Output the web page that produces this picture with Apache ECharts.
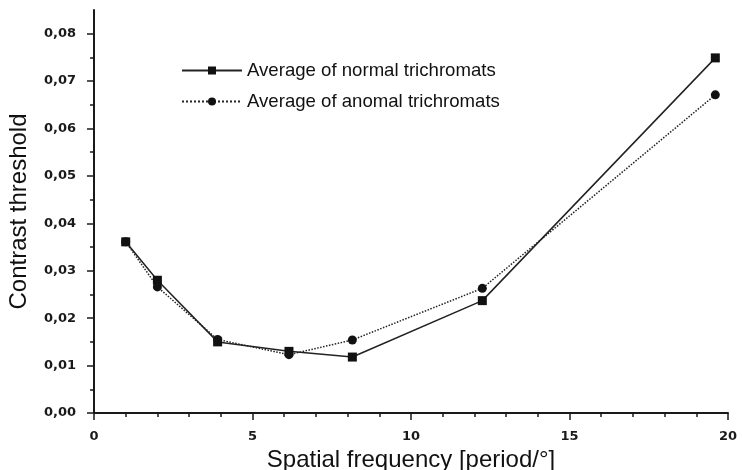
<!DOCTYPE html>
<html>
<head>
<meta charset="utf-8">
<script src="https://cdn.jsdelivr.net/npm/echarts@6/dist/echarts.min.js"></script>
<style>
  html, body { margin: 0; padding: 0; background: #fff; }
  #chart { width: 742px; height: 470px; }
</style>
</head>
<body>
<div id="chart"></div>
<script>
// spatial frequency of each measurement
const freq = [1, 2, 3.9, 6.15, 8.15, 12.25, 19.6];
// contrast thresholds
const normalAvg = [0.0361, 0.028, 0.015, 0.013, 0.0118, 0.0237, 0.0749];
const anomalAvg = [0.0361, 0.0266, 0.0155, 0.0123, 0.0154, 0.0263, 0.0671];
const seriesNames = ["Average of normal trichromats", "Average of anomal trichromats"];
// y axis ticks
const yTicks = [0, 0.01, 0.02, 0.03, 0.04, 0.05, 0.06, 0.07, 0.08];
const yTickLabels = ["0,00", "0,01", "0,02", "0,03", "0,04", "0,05", "0,06", "0,07", "0,08"];
const yMinorTicks = [0.005, 0.015, 0.025, 0.035, 0.045, 0.055, 0.065, 0.075];

const chart = echarts.init(document.getElementById("chart"));

const axisColor = "#1a1a1a";
const labelStyle = {
  color: "#1a1a1a",
  fontFamily: "DejaVu Sans",
  fontWeight: "bold",
  fontSize: 13,
};
const titleStyle = { fontFamily: "Liberation Sans", fontSize: 24, color: "#111" };

const option = {
  animation: false,
  backgroundColor: "#fff",
  grid: { left: 94, right: 14, top: 10, bottom: 57, outerBoundsMode: "none" },
  legend: {
    left: 176,
    top: 56,
    orient: "vertical",
    itemWidth: 60,
    itemHeight: 10,
    itemGap: 12,
    textStyle: { fontFamily: "Liberation Sans", fontSize: 18.6, color: "#111" },
    data: seriesNames,
  },
  xAxis: {
    type: "value",
    min: 0,
    max: 20,
    interval: 5,
    name: "Spatial frequency [period/°]",
    nameLocation: "middle",
    nameGap: 33,
    nameTextStyle: titleStyle,
    axisLine: { show: true, lineStyle: { color: axisColor, width: 2 } },
    axisTick: { show: true, length: 7, lineStyle: { color: axisColor, width: 1.5 } },
    minorTick: { show: true, splitNumber: 5, length: 4, lineStyle: { color: axisColor, width: 1.5 } },
    axisLabel: Object.assign({ margin: 17 }, labelStyle),
    splitLine: { show: false },
  },
  yAxis: [
    {
      type: "value",
      min: 0,
      max: 0.085,
      interval: 0.01,
      name: "Contrast threshold",
      nameLocation: "middle",
      nameGap: 63,
      nameTextStyle: titleStyle,
      axisLine: { show: true, lineStyle: { color: axisColor, width: 2 } },
      axisTick: {
        show: true,
        length: 7,
        customValues: yTicks,
        lineStyle: { color: axisColor, width: 1.5 },
      },
      axisLabel: Object.assign(
        {
          margin: 18,
          customValues: yTicks,
          formatter: function (v) {
            const i = yTicks.findIndex((t) => Math.abs(t - v) < 1e-9);
            return i >= 0 ? yTickLabels[i] : "";
          },
        },
        labelStyle
      ),
      splitLine: { show: false },
    },
    {
      // minor ticks only
      type: "value",
      position: "left",
      min: 0,
      max: 0.085,
      axisLine: { show: false },
      axisLabel: { show: false },
      splitLine: { show: false },
      axisTick: {
        show: true,
        length: 4,
        customValues: yMinorTicks,
        lineStyle: { color: axisColor, width: 1.5 },
      },
    },
  ],
  series: [
    {
      name: seriesNames[0],
      type: "line",
      yAxisIndex: 0,
      data: freq.map((x, i) => [x, normalAvg[i]]),
      symbol: "rect",
      symbolSize: 9,
      itemStyle: { color: "#111" },
      lineStyle: { color: "#222", width: 1.5, type: "solid" },
    },
    {
      name: seriesNames[1],
      type: "line",
      yAxisIndex: 0,
      data: freq.map((x, i) => [x, anomalAvg[i]]),
      symbol: "circle",
      symbolSize: 9,
      itemStyle: { color: "#111" },
      lineStyle: { color: "#222", width: 1.5, type: "dotted" },
    },
  ],
};

chart.setOption(option);
</script>
</body>
</html>
